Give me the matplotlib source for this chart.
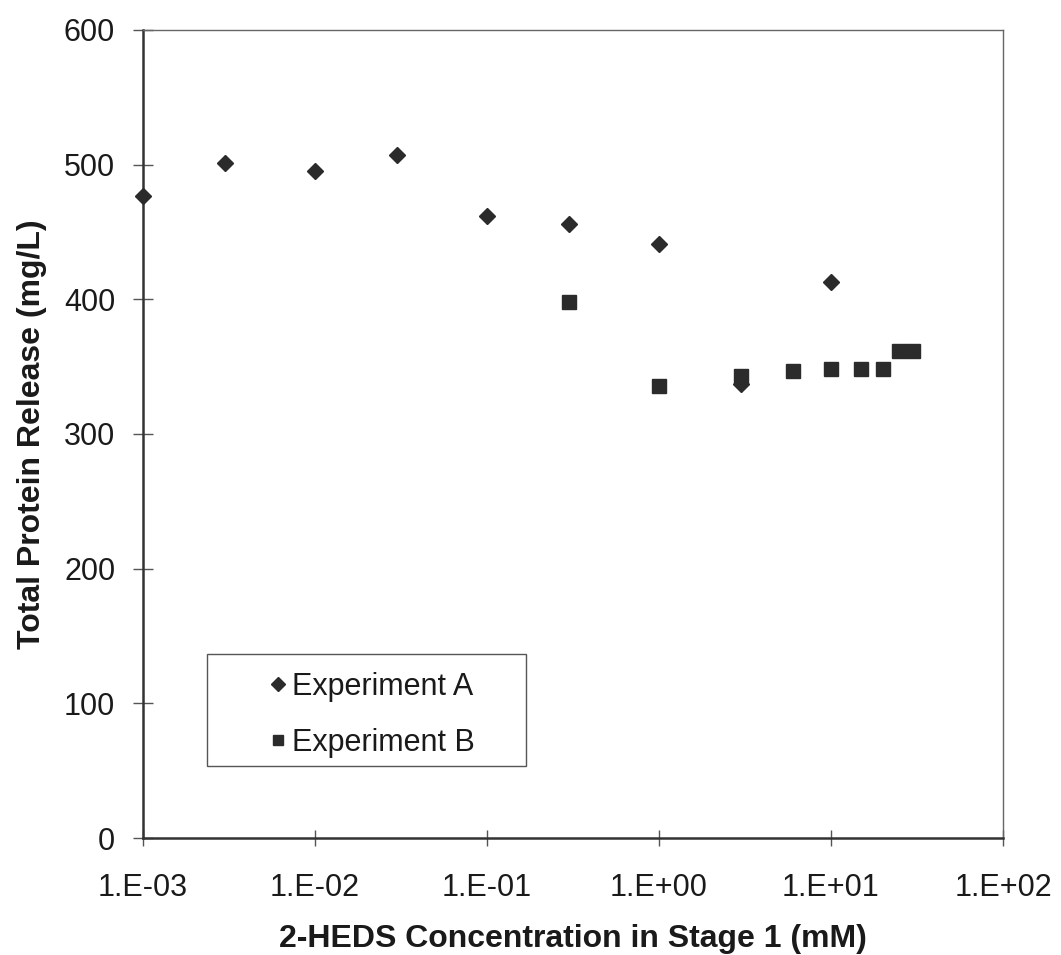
import matplotlib
matplotlib.use('Agg')
import matplotlib.pyplot as plt
from matplotlib.patches import Rectangle
import numpy as np

plt.rc('font', family=['Liberation Sans', 'DejaVu Sans'], size=22)

# Experiment A
conc_a = [0.001, 0.003, 0.01, 0.03, 0.1, 0.3, 1.0, 3.0, 10.0]
prot_a = [477, 501, 495, 507, 462, 456, 441, 337, 413]
# Experiment B
conc_b = [0.3, 1.0, 3.0, 6.0, 10.0, 15.0, 20.0, 25.0, 30.0]
prot_b = [398, 336, 343, 347, 348, 348, 348, 362, 362]

xticks = [1e-3, 1e-2, 1e-1, 1e0, 1e1, 1e2]
xticklabels = ['1.E-03', '1.E-02', '1.E-01', '1.E+00', '1.E+01', '1.E+02']
yticks = [0, 100, 200, 300, 400, 500, 600]

fig = plt.figure(figsize=(10.61, 9.55), dpi=100)
ax = fig.add_axes([0.1348, 0.1225, 0.8105, 0.8461])

ax.plot(conc_a, prot_a, 'D', color='#2b2b2b', markersize=8.5, label='Experiment A',
        clip_on=False, zorder=3)
ax.plot(conc_b, prot_b, 's', color='#2b2b2b', markersize=10, label='Experiment B',
        clip_on=False, zorder=3)

ax.set_xscale('log')
ax.set_xlim(1e-3, 1e2)
ax.set_ylim(0, 600)
ax.set_xticks(xticks)
ax.set_xticklabels(xticklabels)
ax.xaxis.set_minor_locator(matplotlib.ticker.NullLocator())
ax.set_yticks(yticks)

ax.tick_params(axis='both', direction='inout', width=1.0, color='#555555',
               labelsize=22, labelcolor='#1a1a1a')
ax.tick_params(axis='x', length=12, pad=19)
ax.tick_params(axis='y', length=14, pad=13)

for side in ['left', 'bottom']:
    ax.spines[side].set_linewidth(1.8)
    ax.spines[side].set_color('#333333')
for side in ['top', 'right']:
    ax.spines[side].set_linewidth(1.0)
    ax.spines[side].set_color('#666666')

ax.set_xlabel('2-HEDS Concentration in Stage 1 (mM)', fontsize=23, fontweight='bold',
              labelpad=15, color='#1a1a1a')
ax.set_ylabel('Total Protein Release (mg/L)', fontsize=23, fontweight='bold',
              labelpad=12, color='#1a1a1a')

# legend box drawn separately, entries placed inside
ax.add_patch(Rectangle((0.0744, 0.089), 0.371, 0.139, transform=ax.transAxes,
                       fill=False, edgecolor='#555555', linewidth=1.0, zorder=4))
leg = ax.legend(loc='upper left', bbox_to_anchor=(0.1465, 0.206), frameon=False,
                fontsize=22, handletextpad=0.15, handlelength=0.6, markerscale=0.78,
                labelspacing=0.86, borderpad=0, borderaxespad=0)
for t in leg.get_texts():
    t.set_color('#1a1a1a')

fig.savefig('out.png', dpi=100)
